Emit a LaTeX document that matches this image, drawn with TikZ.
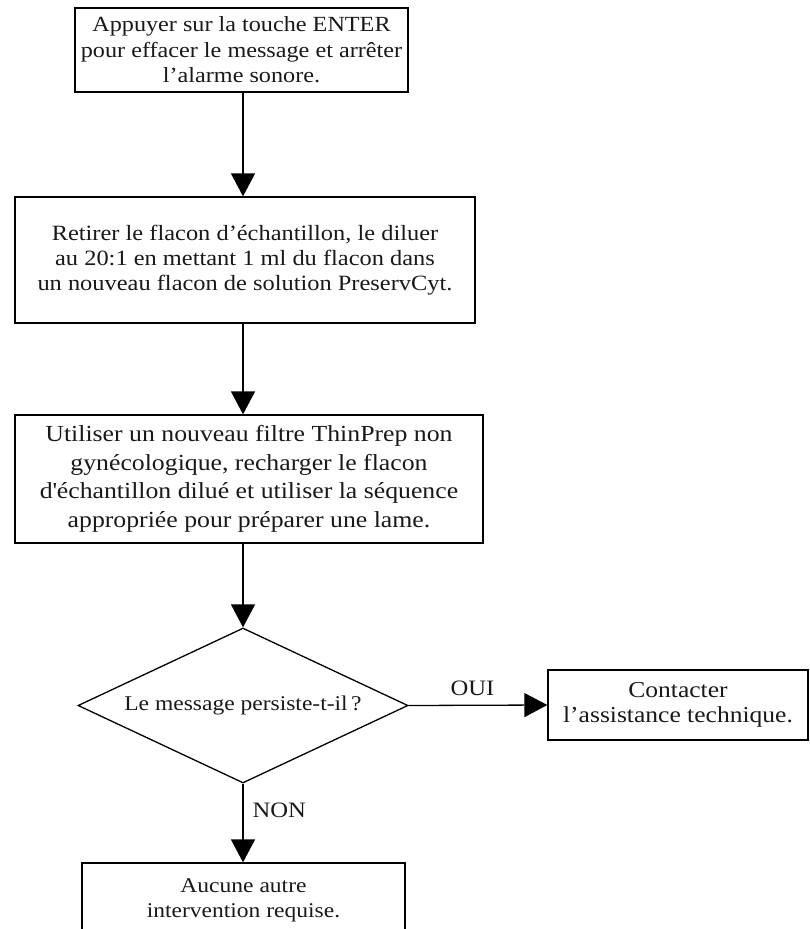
\documentclass[tikz,border=0pt]{standalone}
\usepackage{fontspec}
\setmainfont{Liberation Serif}[FakeStretch=1.12]
\usetikzlibrary{arrows.meta,shapes.geometric}
\tikzset{
  box/.style={draw, line width=1.3pt, rectangle, inner sep=0pt, align=center, text=black!90},
  dia/.style={draw, line width=1.3pt, diamond, aspect=2.13, inner sep=0pt, align=center, text=black!90},
  arr/.style={line width=1.3pt, -{Triangle[length=23pt,width=24pt]}},
  lbl/.style={inner sep=0pt, text=black!90, font=\fontsize{22}{24}\selectfont}
}
\begin{document}
\begin{tikzpicture}[x=1pt,y=-1pt]
\useasboundingbox (0,0) rectangle (810,929);
\clip (0,0) rectangle (810,929);
\node[box, minimum width=333pt, minimum height=84pt, font=\fontsize{21.6}{25.5}\selectfont] (b1) at (241.5,50)
  {Appuyer sur la touche ENTER\\pour effacer le message et arrêter\\l’alarme sonore.};
\node[box, minimum width=460pt, minimum height=126pt, font=\fontsize{21.8}{25}\selectfont] (b2) at (245,260)
  {Retirer le flacon d’échantillon, le diluer\\au 20:1 en mettant 1 ml du flacon dans\\un nouveau flacon de solution PreservCyt.};
\node[box, minimum width=468pt, minimum height=128pt, font=\fontsize{23}{28.5}\selectfont] (b3) at (249,479)
  {Utiliser un nouveau filtre ThinPrep non\\gynécologique, recharger le flacon\\d\textquotesingle échantillon dilué et utiliser la séquence\\appropriée pour préparer une lame.};
\node[dia, minimum width=330pt, minimum height=155pt, font=\fontsize{21}{24}\selectfont] (d) at (243,705.5)
  {Le message persiste-t-il\,?};
\node[box, minimum width=260pt, minimum height=70pt, font=\fontsize{22.8}{25}\selectfont] (b4) at (678,705)
  {Contacter\\l’assistance technique.};
\node[box, minimum width=323pt, minimum height=74pt, font=\fontsize{21}{25}\selectfont] (b5) at (243.5,900)
  {Aucune autre\\intervention requise.};
\draw[arr] (d.north |- b1.south) -- (d.north |- b2.north);
\draw[arr] (d.north |- b2.south) -- (d.north |- b3.north);
\draw[arr] (d.north |- b3.south) -- (d.north);
\draw[arr] (d.east) -- (b4.west) node[lbl, pos=0.46, above=9pt] (oui) {OUI};
\draw[arr] (d.south) -- (d.south |- b5.north) node[lbl, pos=0.34, right=9pt] (non) {NON};
\end{tikzpicture}
\end{document}
